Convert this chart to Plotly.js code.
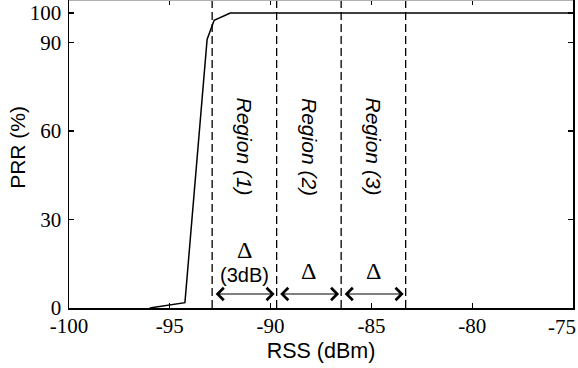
<!DOCTYPE html>
<html>
<head>
<meta charset="utf-8">
<script src="https://cdn.plot.ly/plotly-3.0.1.min.js"></script>
<style>html,body{margin:0;padding:0;background:#fff}#chart{width:578px;height:368px}</style>
</head>
<body>
<div id="chart"></div>
<script>
// ---- data ----
const rss = [-96, -94.25, -93.15, -92.8, -92, -75];
const prr = [0, 1.8, 91, 97.5, 100, 100];
const regionBounds = [-92.9, -89.7, -86.5, -83.3];
const regionLabels = ['Region (1)', 'Region (2)', 'Region (3)'];
const deltaLabels = ['\u0394', '\u0394', '\u0394'];
const deltaNote = '(3dB)';
const xTickVals = [-100, -95, -90, -85, -80, -75];
const yTickVals = [0, 30, 60, 90, 100];

const serif = 'Liberation Serif';
const sans = 'Liberation Sans';

function draw() {
  const shapes = regionBounds.map(b => ({
    type: 'line', xref: 'x', yref: 'paper', x0: b, x1: b, y0: 0, y1: 1,
    line: {color: '#000', width: 1.3, dash: '8px,4px'}
  }));
  // light top frame edge
  shapes.push({type: 'line', xref: 'paper', yref: 'paper', x0: 0, x1: 1, y0: 1, y1: 1,
    line: {color: '#b0b0b0', width: 2}});

  const annotations = [];
  for (let i = 0; i < regionLabels.length; i++) {
    const xm = (regionBounds[i] + regionBounds[i + 1]) / 2;
    annotations.push({
      x: xm, y: 54.6, xref: 'x', yref: 'y', text: regionLabels[i], showarrow: false,
      textangle: 90, font: {family: sans, size: 21, style: 'italic', color: '#000'}
    });
    annotations.push({
      x: xm, y: i === 0 ? 19.6 : 12.5, xref: 'x', yref: 'y', text: deltaLabels[i], showarrow: false,
      font: {family: serif, size: 24, color: '#000'}
    });
    if (i === 0) {
      annotations.push({
        x: xm, y: 11.3, xref: 'x', yref: 'y', text: deltaNote, showarrow: false,
        font: {family: sans, size: 20, color: '#000'}
      });
    }
    annotations.push({
      x: regionBounds[i + 1], y: 4.75, ax: regionBounds[i], ay: 4.75,
      xref: 'x', yref: 'y', axref: 'x', ayref: 'y', text: '', showarrow: true,
      arrowhead: 4, startarrowhead: 4, arrowside: 'end+start',
      arrowsize: 2, arrowwidth: 1.2, arrowcolor: '#000', standoff: 2, startstandoff: 2
    });
  }
  // last x tick label is pulled inside the figure edge, as in the reference
  annotations.push({
    x: xTickVals[xTickVals.length - 1], y: 0, xref: 'x', yref: 'paper', yanchor: 'top',
    xanchor: 'right', xshift: 5, yshift: -5, text: String(xTickVals[xTickVals.length - 1]),
    showarrow: false, font: {family: serif, size: 21, color: '#000'}
  });
  // y-axis title placed as in the reference
  annotations.push({
    x: 0, y: 0.52, xref: 'paper', yref: 'paper', xanchor: 'center', yanchor: 'middle',
    xshift: -51, text: 'PRR (%)', textangle: -90, showarrow: false,
    font: {family: sans, size: 21, color: '#000'}
  });

  const trace = {
    x: rss, y: prr, type: 'scatter', mode: 'lines',
    line: {color: '#000', width: 1.5}, hoverinfo: 'skip'
  };

  const layout = {
    width: 578, height: 368,
    margin: {l: 69, r: 5, t: 0, b: 60},
    paper_bgcolor: '#fff', plot_bgcolor: '#fff',
    showlegend: false,
    font: {family: sans, color: '#000'},
    xaxis: {
      range: [-100, -75], tickvals: xTickVals,
      ticktext: xTickVals.map((v, i) => i === xTickVals.length - 1 ? '' : String(v)),
      ticks: 'inside', ticklen: 5, tickwidth: 1.2, tickcolor: '#000',
      showline: true, linecolor: '#000', linewidth: 1.5, mirror: 'ticks',
      showgrid: false, zeroline: false, ticklabelstandoff: -2,
      tickfont: {family: serif, size: 21, color: '#000'},
      title: {text: 'RSS (dBm)', font: {family: sans, size: 21.5, color: '#000'}, standoff: 6}
    },
    yaxis: {
      range: [0, 104.4], tickvals: yTickVals, ticktext: yTickVals.map(String),
      ticks: 'inside', ticklen: 5, tickwidth: 1.2, tickcolor: '#000',
      showline: true, linecolor: '#000', linewidth: 1.5, mirror: 'ticks',
      showgrid: false, zeroline: false, ticklabelstandoff: 2,
      tickfont: {family: serif, size: 21, color: '#000'}
    },
    shapes: shapes,
    annotations: annotations
  };

  Plotly.newPlot('chart', [trace], layout, {displayModeBar: false, staticPlot: true});
}

let fontsReady = Promise.resolve();
if (document.fonts && document.fonts.load) {
  fontsReady = Promise.all([
    document.fonts.load('20px "Liberation Serif"', '-0123456789\u0394'),
    document.fonts.load('20px "Liberation Sans"', 'RSS (dBm) PRR'),
    document.fonts.load('italic 20px "Liberation Sans"', 'Region (1)')
  ]).catch(() => {});
}
fontsReady.then(draw, draw);
</script>
</body>
</html>
